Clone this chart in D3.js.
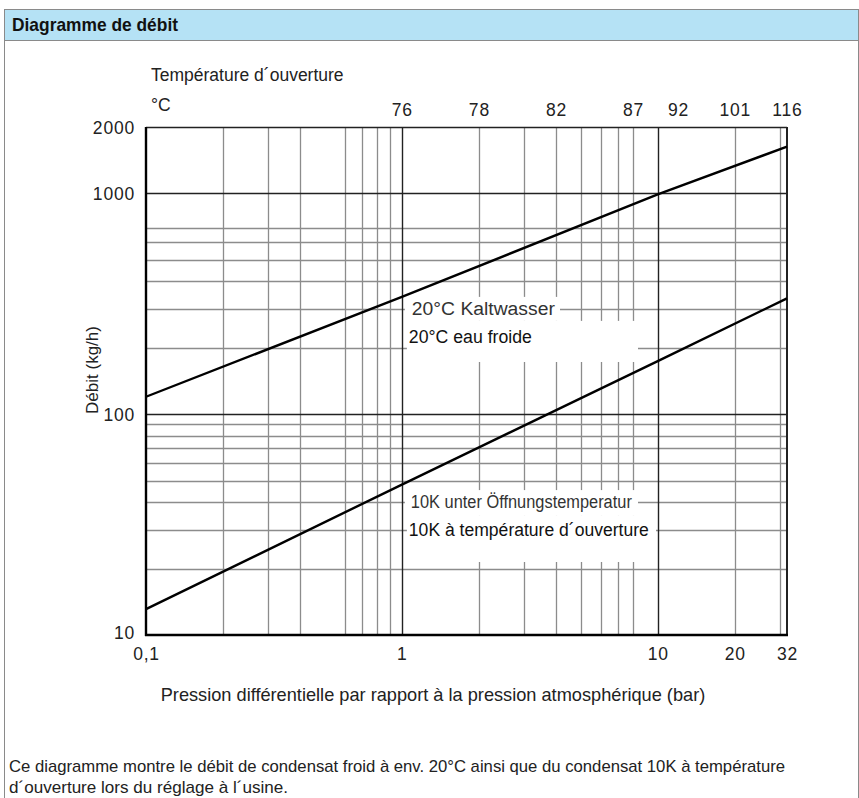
<!DOCTYPE html>
<html>
<head>
<meta charset="utf-8">
<script src="https://cdn.jsdelivr.net/npm/d3@7"></script>
<style>
  body { margin: 0; background: #fff; }
  svg { display: block; font-family: "Liberation Sans", Arial, sans-serif; }
</style>
</head>
<body>
<svg id="chart" width="859" height="798"></svg>
<script>
(function () {
'use strict';

// pressure (bar) vs flow (kg/h)
var coldWater = [[0.1, 120], [1, 340], [10, 990], [32, 1630]];
var belowOpening = [[0.1, 13.1], [1, 48], [10, 174], [32, 335]];

var xTickValues = [0.1, 1, 10, 20, 32];
var xTickLabels = ["0,1", "1", "10", "20", "32"];
var yTickValues = [10, 100, 1000, 2000];
var yTickLabels = ["10", "100", "1000", "2000"];

// opening temperature scale on top, placed at the matching pressures
var tempPressures = [1, 2, 4, 8, 12, 20, 32];
var tempLabels = ["76", "78", "82", "87", "92", "101", "116"];

var majorX = [1, 10];
var minorX = [0.2, 0.3, 0.4, 0.6, 0.7, 0.8, 0.9, 2, 3, 4, 5, 6, 7, 8, 20, 30];
var majorY = [100, 1000];
var minorY = [20, 30, 40, 50, 60, 70, 80, 90, 200, 300, 400, 500, 600, 700];

var svg = d3.select("#chart");
var W = 859;

var left = 146, right = 787, top = 127, bottom = 635;

var x = d3.scaleLog().domain([0.1, 32]).range([left, right]);
var y = d3.scaleLog().domain([10, 2000]).range([bottom, top]);

// panel frame + header
svg.append("rect")
    .attr("x", 4.5).attr("y", 9.5)
    .attr("width", W - 5).attr("height", 800)
    .attr("fill", "#fff").attr("stroke", "#8a8a8a");
svg.append("rect")
    .attr("x", 4.5).attr("y", 9.5)
    .attr("width", W - 5).attr("height", 31)
    .attr("fill", "#b5e2f5").attr("stroke", "#8a8a8a");
svg.append("text")
    .attr("x", 12).attr("y", 31)
    .attr("font-weight", "bold")
    .attr("font-size", 18.5)
    .attr("textLength", 166)
    .attr("lengthAdjust", "spacingAndGlyphs")
    .attr("fill", "#111")
    .text("Diagramme de débit");

var g = svg.append("g");

// grid
g.selectAll("line.minor-x")
    .data(minorX)
    .enter().append("line")
    .attr("class", "minor-x")
    .attr("x1", function (d) { return Math.round(x(d)) + 0.5; })
    .attr("x2", function (d) { return Math.round(x(d)) + 0.5; })
    .attr("y1", top).attr("y2", bottom)
    .attr("stroke", "#8c8c8c").attr("stroke-width", 1.3);

g.selectAll("line.minor-y")
    .data(minorY)
    .enter().append("line")
    .attr("class", "minor-y")
    .attr("x1", left).attr("x2", right)
    .attr("y1", function (d) { return Math.round(y(d)) + 0.5; })
    .attr("y2", function (d) { return Math.round(y(d)) + 0.5; })
    .attr("stroke", "#8c8c8c").attr("stroke-width", 1.3);

g.selectAll("line.major-x")
    .data(majorX)
    .enter().append("line")
    .attr("class", "major-x")
    .attr("x1", function (d) { return Math.round(x(d)) + 0.5; })
    .attr("x2", function (d) { return Math.round(x(d)) + 0.5; })
    .attr("y1", top).attr("y2", bottom)
    .attr("stroke", "#222").attr("stroke-width", 1.4);

g.selectAll("line.major-y")
    .data(majorY)
    .enter().append("line")
    .attr("class", "major-y")
    .attr("x1", left).attr("x2", right)
    .attr("y1", function (d) { return Math.round(y(d)) + 0.5; })
    .attr("y2", function (d) { return Math.round(y(d)) + 0.5; })
    .attr("stroke", "#222").attr("stroke-width", 1.4);

// white boxes behind the curve labels
var x1 = x(1);
var boxes = [
    { x0: x1 + 3, x1: 560, y0: y(300) - 12, y1: y(300) + 12 },
    { x0: x1 + 5, x1: 638, y0: y(300) + 12, y1: 362 },
    { x0: x1 + 3, x1: 638, y0: y(40) - 12, y1: y(40) + 13 },
    { x0: x1 + 5, x1: 656, y0: y(40) + 13, y1: 562 }
];
g.selectAll("rect.label-bg")
    .data(boxes)
    .enter().append("rect")
    .attr("class", "label-bg")
    .attr("x", function (d) { return d.x0; })
    .attr("y", function (d) { return d.y0; })
    .attr("width", function (d) { return d.x1 - d.x0; })
    .attr("height", function (d) { return d.y1 - d.y0; })
    .attr("fill", "#fff");

// frame of the plot
g.append("line").attr("x1", left).attr("x2", right).attr("y1", top + 0.5).attr("y2", top + 0.5)
    .attr("stroke", "#222").attr("stroke-width", 1.6);
g.append("line").attr("x1", right).attr("x2", right).attr("y1", top).attr("y2", bottom)
    .attr("stroke", "#222").attr("stroke-width", 2);
g.append("line").attr("x1", left).attr("x2", left).attr("y1", top).attr("y2", bottom + 1)
    .attr("stroke", "#000").attr("stroke-width", 2.4);
g.append("line").attr("x1", left - 1).attr("x2", right + 1).attr("y1", bottom).attr("y2", bottom)
    .attr("stroke", "#000").attr("stroke-width", 2.6);

// curves
var line = d3.line()
    .x(function (d) { return x(d[0]); })
    .y(function (d) { return y(d[1]); });

g.selectAll("path.curve")
    .data([coldWater, belowOpening])
    .enter().append("path")
    .attr("class", "curve")
    .attr("d", line)
    .attr("fill", "none")
    .attr("stroke", "#000")
    .attr("stroke-width", 2.4);

// curve labels
var labels = [
    { text: "20°C Kaltwasser", x: x1 + 10, y: y(300) + 6, size: 18, len: 143, fill: "#333" },
    { text: "20°C eau froide", x: x1 + 7, y: y(300) + 34, size: 18, len: 123, fill: "#111" },
    { text: "10K unter Öffnungstemperatur", x: x1 + 9, y: y(40) + 6, size: 17.6, len: 221, fill: "#333" },
    { text: "10K à température d´ouverture", x: x1 + 7, y: y(30) + 6, size: 17.6, len: 240, fill: "#111" }
];
g.selectAll("text.curve-label")
    .data(labels)
    .enter().append("text")
    .attr("class", "curve-label")
    .attr("x", function (d) { return d.x; })
    .attr("y", function (d) { return d.y; })
    .attr("font-size", function (d) { return d.size; })
    .attr("textLength", function (d) { return d.len; })
    .attr("lengthAdjust", "spacingAndGlyphs")
    .attr("fill", function (d) { return d.fill; })
    .text(function (d) { return d.text; });

// axes (ticks hidden, labels only)
var xAxis = d3.axisBottom(x)
    .tickValues(xTickValues)
    .tickFormat(function (d, i) { return xTickLabels[i]; })
    .tickSize(0).tickPadding(13);
var xg = svg.append("g").attr("transform", "translate(0," + bottom + ")").call(xAxis);

var yAxis = d3.axisLeft(y)
    .tickValues(yTickValues)
    .tickFormat(function (d, i) { return yTickLabels[i]; })
    .tickSize(0).tickPadding(11);
var yg = svg.append("g").attr("transform", "translate(" + left + ",0)").call(yAxis);

var topAxis = d3.axisTop(x)
    .tickValues(tempPressures)
    .tickFormat(function (d, i) { return tempLabels[i]; })
    .tickSize(0).tickPadding(11);
var tg = svg.append("g").attr("transform", "translate(0," + top + ")").call(topAxis);

[xg, yg, tg].forEach(function (a) {
    a.select(".domain").remove();
    a.selectAll("text")
        .attr("font-family", "'Liberation Sans', Arial, sans-serif")
        .attr("font-size", 17.5)
        .attr("letter-spacing", 0.8)
        .attr("fill", "#222");
});
xg.selectAll("text").attr("dy", "0.71em");
yg.selectAll("text").attr("dy", "0.36em");
// the lowest y label sits slightly above the corner, 0,1 below it
yg.selectAll("text").filter(function (d) { return d === 10; }).attr("dy", "0.2em");

// titles
svg.append("text")
    .attr("x", 151).attr("y", 81)
    .attr("font-size", 17.5).attr("fill", "#222")
    .text("Température d´ouverture");
svg.append("text")
    .attr("x", 151).attr("y", 111)
    .attr("font-size", 17.5).attr("fill", "#222")
    .text("°C");

svg.append("text")
    .attr("text-anchor", "middle")
    .attr("x", 433).attr("y", 701)
    .attr("font-size", 18.2).attr("fill", "#222")
    .text("Pression différentielle par rapport à la pression atmosphérique (bar)");

svg.append("text")
    .attr("text-anchor", "middle")
    .attr("transform", "translate(98,370) rotate(-90)")
    .attr("font-size", 17).attr("fill", "#222")
    .text("Débit (kg/h)");

// footer note
var note = svg.append("text")
    .attr("font-size", 17).attr("fill", "#222");
note.append("tspan").attr("x", 9).attr("y", 772)
    .attr("textLength", 776).attr("lengthAdjust", "spacingAndGlyphs")
    .text("Ce diagramme montre le débit de condensat froid à env. 20°C ainsi que du condensat 10K à température");
note.append("tspan").attr("x", 9).attr("y", 793)
    .attr("textLength", 279).attr("lengthAdjust", "spacingAndGlyphs")
    .text("d´ouverture lors du réglage à l´usine.");
})();
</script>
</body>
</html>
